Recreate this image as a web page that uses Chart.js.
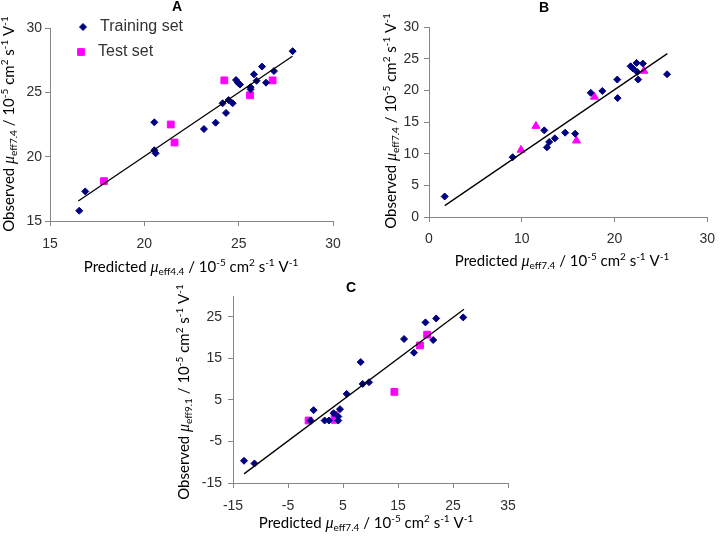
<!DOCTYPE html>
<html>
<head>
<meta charset="utf-8">
<script src="https://cdn.jsdelivr.net/npm/chart.js@4.4.1/dist/chart.umd.min.js"></script>
<style>
    html, body { margin: 0; padding: 0; background: #ffffff; }
    #wrap { position: relative; width: 724px; height: 538px; }
    #wrap canvas { position: absolute; left: 0; top: 0; }
</style>
</head>
<body>
<div id="wrap">
    <canvas id="chartA" width="724" height="538"></canvas>
    <canvas id="chartB" width="724" height="538"></canvas>
    <canvas id="chartC" width="724" height="538"></canvas>
</div>
<script>
// ---- data ----

// Panel A: observed mu_eff7.4 vs predicted mu_eff4.4
const aTrainPred = [16.55, 16.87, 20.53, 20.53, 20.6, 23.16, 23.78, 24.15, 24.33, 24.47, 24.68, 24.86, 24.96, 25.07, 25.63, 25.63, 25.81, 25.95, 26.24, 26.45, 26.87, 27.86];
const aTrainObs  = [15.8, 17.3, 22.67, 20.5, 20.26, 22.15, 22.64, 24.15, 23.4, 24.4, 24.15, 25.96, 25.75, 25.6, 25.4, 25.23, 26.4, 25.9, 27.0, 25.75, 26.65, 28.2];
const aTestPred  = [17.86, 21.4, 21.6, 24.24, 25.6, 26.8];
const aTestObs   = [18.1, 22.5, 21.1, 25.93, 24.77, 25.93];
const aFitPred   = [16.5, 27.85];
const aFitObs    = [16.55, 27.8];
const aTicksX    = [15, 20, 25, 30];
const aTicksY    = [15, 20, 25, 30];

// Panel B: observed mu_eff7.4 vs predicted mu_eff7.4
const bTrainPred = [1.69, 9.02, 12.43, 12.72, 12.96, 13.57, 14.68, 15.76, 17.44, 18.69, 20.3, 20.34, 21.74, 21.99, 22.38, 23.06, 22.56, 22.45, 25.67];
const bTrainObs  = [3.24, 9.44, 13.68, 11.0, 11.85, 12.42, 13.31, 13.15, 19.6, 19.9, 21.7, 18.77, 23.8, 23.44, 24.33, 24.22, 21.7, 22.9, 22.54];
const bTestPred  = [9.92, 11.53, 15.9, 17.84, 23.17];
const bTestObs   = [10.59, 14.36, 12.05, 18.97, 23.06];
const bFitPred   = [1.7, 25.7];
const bFitObs    = [1.8, 25.8];
const bTicksX    = [0, 10, 20, 30];
const bTicksY    = [0, 5, 10, 15, 20, 25, 30];

// Panel C: observed mu_eff9.1 vs predicted mu_eff7.4
const cTrainPred = [-13.0, -11.1, -0.35, -0.9, 1.66, 2.44, 3.3, 4.14, 4.14, 4.45, 5.67, 8.22, 8.58, 9.73, 16.1, 17.9, 19.99, 21.4, 21.94, 26.86];
const cTrainObs  = [-9.65, -10.3, 2.53, 0.03, 0.03, 0.03, 1.8, 1.0, 0.03, 2.77, 6.44, 14.1, 8.84, 9.25, 19.65, 16.36, 23.65, 19.4, 24.6, 24.85];
const cTestPred  = [-1.26, 3.48, 3.48, 14.34, 19.0, 20.3];
const cTestObs   = [0.03, 1.4, 0.2, 6.92, 18.1, 20.7];
const cFitPred   = [-13, 27];
const cFitObs    = [-12.8, 26.8];
const cTicksX    = [-15, -5, 5, 15, 25, 35];
const cTicksY    = [-15, -5, 5, 15, 25];

const NAVY = '#000080';
const MAGENTA = '#ff00ff';
const AXIS = '#868686';

function pairs(xs, ys) {
    return xs.map((x, i) => ({ x: x, y: ys[i] }));
}

// axis title pieces: [text, kind]
function axisTitle(word, sub) {
    return [
        [word + ' ', 'n'], ['\u03bc', 'mu'], [sub, 'sub'], [' / 10', 'n'], ['-5', 'sup'],
        [' cm', 'n'], ['2', 'sup'], [' s', 'n'], ['-1', 'sup'], [' V', 'n'], ['-1', 'sup']
    ];
}

const FONTS = {
    n:   { font: '15px Lato', dy: 0 },
    mu:  { font: 'italic 16px "Liberation Serif"', dy: 0 },
    sub: { font: '10px Lato', dy: 3 },
    sup: { font: '10px Lato', dy: -6 }
};

function drawRich(ctx, parts, cx, cy, angle) {
    let total = 0;
    parts.forEach(p => { ctx.font = FONTS[p[1]].font; total += ctx.measureText(p[0]).width; });
    ctx.save();
    ctx.translate(cx, cy);
    ctx.rotate(angle);
    ctx.textAlign = 'left';
    ctx.textBaseline = 'alphabetic';
    let x = -total / 2;
    parts.forEach(p => {
        const f = FONTS[p[1]];
        ctx.font = f.font;
        ctx.fillText(p[0], x, 5 + f.dy);
        x += ctx.measureText(p[0]).width;
    });
    ctx.restore();
}

// panel letter, axis titles and the in-plot legend
const richLabels = {
    id: 'richLabels',
    afterDraw(chart, args, opts) {
        const ctx = chart.ctx;
        ctx.save();
        ctx.fillStyle = '#000';
        ctx.font = 'bold 14px "Liberation Sans"';
        ctx.textAlign = 'center';
        ctx.textBaseline = 'middle';
        ctx.fillText(opts.panel, opts.panelAt[0], opts.panelAt[1]);
        drawRich(ctx, opts.xTitle, opts.xAt[0], opts.xAt[1], 0);
        drawRich(ctx, opts.yTitle, opts.yAt[0], opts.yAt[1], -Math.PI / 2);

        (opts.legend || []).forEach(item => {
            const ds = chart.data.datasets[item.index];
            ctx.fillStyle = ds.backgroundColor;
            ctx.strokeStyle = ds.borderColor;
            ctx.lineWidth = ds.borderWidth;
            Chart.helpers.drawPoint(ctx, {
                pointStyle: ds.pointStyle, radius: ds.pointRadius, rotation: 0, borderWidth: ds.borderWidth
            }, item.at[0], item.at[1]);
            ctx.fillStyle = '#333';
            ctx.font = '16px "Liberation Sans"';
            ctx.textAlign = 'left';
            ctx.textBaseline = 'middle';
            ctx.fillText(ds.label, item.at[0] + 17, item.at[1]);
        });
        ctx.restore();
    }
};

function axisScale(min, max, ticks, pad, fitFn) {
    return {
        type: 'linear',
        min: min,
        max: max,
        afterBuildTicks: s => { s.ticks = ticks.map(v => ({ value: v })); },
        afterFit: fitFn,
        grid: { display: true, drawOnChartArea: false, drawTicks: true, tickLength: 5, color: AXIS },
        border: { display: true, color: AXIS, width: 1 },
        ticks: {
            padding: pad,
            color: '#2e2e2e',
            font: { family: '"Liberation Sans", Arial', size: 14 },
            maxRotation: 0,
            autoSkip: false
        }
    };
}

function makePanel(id, p) {
    const datasets = [
        {
            label: 'fit', data: pairs(p.fitX, p.fitY), showLine: true,
            borderColor: '#000', borderWidth: 1.3, pointRadius: 0
        },
        {
            label: 'Training set', data: pairs(p.trainX, p.trainY), pointStyle: 'rectRot',
            pointRadius: 3.5, backgroundColor: NAVY, borderColor: NAVY, borderWidth: 1
        },
        {
            label: 'Test set', data: pairs(p.testX, p.testY), pointStyle: p.testStyle,
            pointRadius: p.testStyle === 'triangle' ? 4.6 : 4.8,
            backgroundColor: MAGENTA, borderColor: MAGENTA, borderWidth: 1
        }
    ];

    return new Chart(document.getElementById(id), {
        type: 'scatter',
        data: { datasets: datasets },
        plugins: [richLabels],
        options: {
            responsive: false,
            animation: false,
            events: [],
            layout: { padding: { left: 0, top: p.area.top, right: 724 - p.area.right, bottom: 0 } },
            scales: {
                x: axisScale(p.xMin, p.xMax, p.ticksX, p.xPad, s => { s.height = 538 - p.area.bottom; }),
                y: axisScale(p.yMin, p.yMax, p.ticksY, p.yPad, s => { s.width = p.area.left; })
            },
            plugins: {
                legend: { display: false },
                tooltip: { enabled: false },
                richLabels: {
                    panel: p.panel, panelAt: p.panelAt,
                    xTitle: p.xTitle, xAt: p.xAt,
                    yTitle: p.yTitle, yAt: p.yAt,
                    legend: p.legend
                }
            }
        }
    });
}

makePanel('chartA', {
    panel: 'A', panelAt: [177, 7],
    trainX: aTrainPred, trainY: aTrainObs, testX: aTestPred, testY: aTestObs,
    fitX: aFitPred, fitY: aFitObs, testStyle: 'rect',
    xMin: 15, xMax: 30, yMin: 15, yMax: 30, ticksX: aTicksX, ticksY: aTicksY,
    area: { left: 50, right: 333, top: 28, bottom: 221 }, xPad: 10, yPad: 3,
    xTitle: axisTitle('Predicted', 'eff4.4'), xAt: [191, 267],
    yTitle: axisTitle('Observed', 'eff7.4'), yAt: [9, 124],
    legend: [{ index: 1, at: [83, 27] }, { index: 2, at: [81, 52] }]
});

makePanel('chartB', {
    panel: 'B', panelAt: [544, 8],
    trainX: bTrainPred, trainY: bTrainObs, testX: bTestPred, testY: bTestObs,
    fitX: bFitPred, fitY: bFitObs, testStyle: 'triangle',
    xMin: 0, xMax: 30, yMin: 0, yMax: 30, ticksX: bTicksX, ticksY: bTicksY,
    area: { left: 429, right: 709, top: 27, bottom: 217 }, xPad: 9, yPad: 5,
    xTitle: axisTitle('Predicted', 'eff7.4'), xAt: [562, 261],
    yTitle: axisTitle('Observed', 'eff7.4'), yAt: [391, 121]
});

makePanel('chartC', {
    panel: 'C', panelAt: [351, 288],
    trainX: cTrainPred, trainY: cTrainObs, testX: cTestPred, testY: cTestObs,
    fitX: cFitPred, fitY: cFitObs, testStyle: 'rect',
    xMin: -15, xMax: 35, yMin: -15, yMax: 30, ticksX: cTicksX, ticksY: cTicksY,
    area: { left: 233, right: 508, top: 296, bottom: 483 }, xPad: 10, yPad: 6,
    xTitle: axisTitle('Predicted', 'eff7.4'), xAt: [366, 523],
    yTitle: axisTitle('Observed', 'eff9.1'), yAt: [184, 392]
});
</script>
</body>
</html>
